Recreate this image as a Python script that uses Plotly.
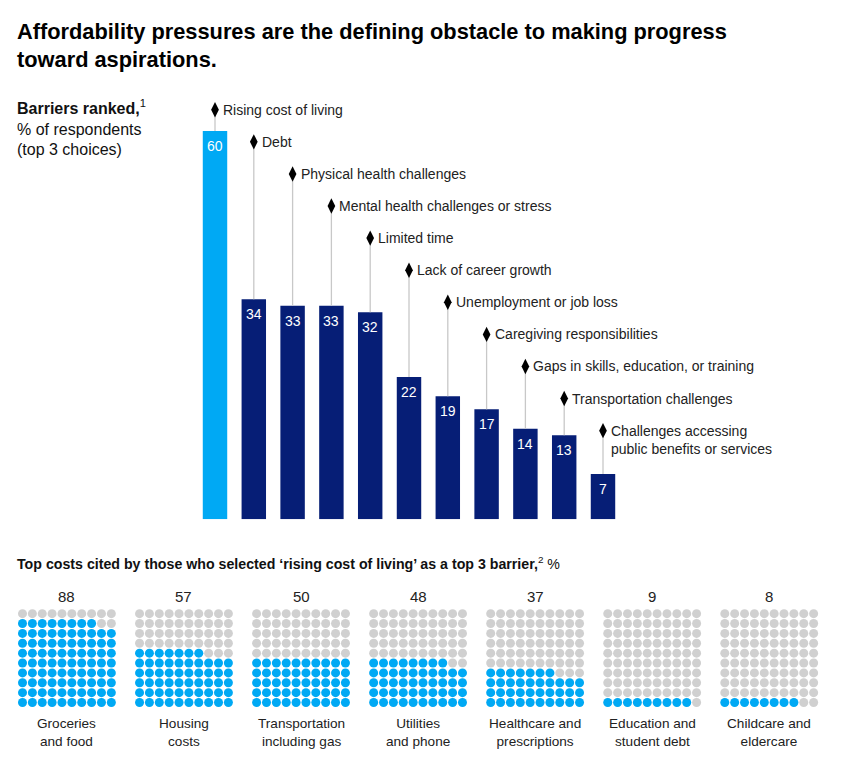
import plotly.graph_objects as go

# barriers chart data
barriers = ["Rising cost of living", "Debt", "Physical health challenges",
            "Mental health challenges or stress", "Limited time",
            "Lack of career growth", "Unemployment or job loss",
            "Caregiving responsibilities", "Gaps in skills, education, or training",
            "Transportation challenges",
            "Challenges accessing<br>public benefits or services"]
barrier_pct = [60, 34, 33, 33, 32, 22, 19, 17, 14, 13, 7]

# waffle data
costs = ["Groceries<br>and food", "Housing<br>costs", "Transportation<br>including gas",
         "Utilities<br>and phone", "Healthcare and<br>prescriptions",
         "Education and<br>student debt", "Childcare and<br>eldercare"]
cost_pct = [88, 57, 50, 48, 37, 9, 8]

W, H = 847, 762
FONT = "Liberation Sans"
BLUE = "#00A9F4"
NAVY = "#061E76"
GREY = "#D0D0D0"
STEM = "#C8C8C8"

label_top = 63.3   # y (data units) of first diamond
label_step = 4.96

fig = go.Figure()

bar_colors = [BLUE] + [NAVY] * (len(barrier_pct) - 1)
fig.add_trace(go.Bar(x=list(range(len(barrier_pct))), y=barrier_pct,
                     marker_color=bar_colors, marker_line_width=0,
                     width=0.63, hoverinfo="skip"))

label_y = [label_top - label_step * i for i in range(len(barriers))]
for i, v in enumerate(barrier_pct):
    fig.add_trace(go.Scatter(x=[i, i], y=[v, label_y[i]], mode="lines",
                             line=dict(color=STEM, width=1.3), hoverinfo="skip"))
fig.add_trace(go.Scatter(x=list(range(len(barriers))), y=label_y, mode="markers",
                         marker=dict(symbol="diamond-tall", size=11, color="black"),
                         hoverinfo="skip"))

for i, (name, v) in enumerate(zip(barriers, barrier_pct)):
    two = "<br>" in name
    fig.add_annotation(x=i, y=label_y[i], xref="x", yref="y", text=name,
                       xanchor="left", yanchor="top" if two else "middle",
                       yshift=9.5 if two else 0, xshift=6, showarrow=False, align="left",
                       font=dict(family=FONT, size=14, color="#222"))
    fig.add_annotation(x=i, y=v, xref="x", yref="y", text=str(v),
                       xanchor="center", yanchor="top", yshift=-5, showarrow=False,
                       font=dict(family=FONT, size=14, color="white"))

# waffles (pixel-like axes x2/y2)
g_x0, g_pitch, d_pitch = 22.5, 117.05, 9.87
row_bottom = 702.5
wx, wy, wc = [], [], []
for g, v in enumerate(cost_pct):
    for k in range(100):
        r, c = divmod(k, 10)
        wx.append(g_x0 + g * g_pitch + c * d_pitch)
        wy.append(row_bottom - r * d_pitch)
        wc.append(BLUE if k < v else GREY)
fig.add_trace(go.Scatter(x=wx, y=wy, mode="markers", xaxis="x2", yaxis="y2",
                         marker=dict(size=9, color=wc, line_width=0), hoverinfo="skip"))

for g, (name, v) in enumerate(zip(costs, cost_pct)):
    cx = g_x0 + g * g_pitch + 4.5 * d_pitch
    fig.add_annotation(x=cx, y=596, xref="x2", yref="y2", text=str(v),
                       showarrow=False, xanchor="center", yanchor="middle",
                       font=dict(family=FONT, size=15, color="#222"))
    fig.add_annotation(x=cx, y=714, xref="x2", yref="y2", text=name,
                       showarrow=False, xanchor="center", yanchor="top",
                       font=dict(family=FONT, size=13.6, color="#222"))

# titles and side texts
fig.add_annotation(x=15, y=17, xref="x2", yref="y2", xanchor="left", yanchor="top",
                   text="<b>Affordability pressures are the defining obstacle to making progress<br>toward aspirations.</b>",
                   showarrow=False, align="left",
                   font=dict(family=FONT, size=21.8, color="black"))
fig.add_annotation(x=15, y=95, xref="x2", yref="y2", xanchor="left", yanchor="top",
                   text="<b>Barriers ranked,</b><sup>1</sup><br>% of respondents<br>(top 3 choices)",
                   showarrow=False, align="left",
                   font=dict(family=FONT, size=16, color="#111"))
fig.add_annotation(x=15, y=563, xref="x2", yref="y2", xanchor="left", yanchor="middle",
                   text="<b>Top costs cited by those who selected ‘rising cost of living’ as a top 3 barrier,</b><sup>2</sup> %",
                   showarrow=False, align="left",
                   font=dict(family=FONT, size=14.2, color="#111"))

fig.update_layout(
    width=W, height=H, margin=dict(l=0, r=0, t=0, b=0),
    paper_bgcolor="white", plot_bgcolor="rgba(0,0,0,0)", showlegend=False,
    xaxis=dict(domain=[195.6 / W, 622.4 / W], range=[-0.5, 10.5], visible=False,
               fixedrange=True),
    yaxis=dict(domain=[1 - 519.3 / H, 1 - 66.4 / H], range=[0, 70], visible=False,
               fixedrange=True),
    xaxis2=dict(domain=[0, 1], range=[0, W], visible=False, anchor="y2"),
    yaxis2=dict(domain=[0, 1], range=[H, 0], visible=False, anchor="x2"),
)

fig.write_html("out.html", config={"displayModeBar": False},
               post_script="document.body.style.margin='0';")
